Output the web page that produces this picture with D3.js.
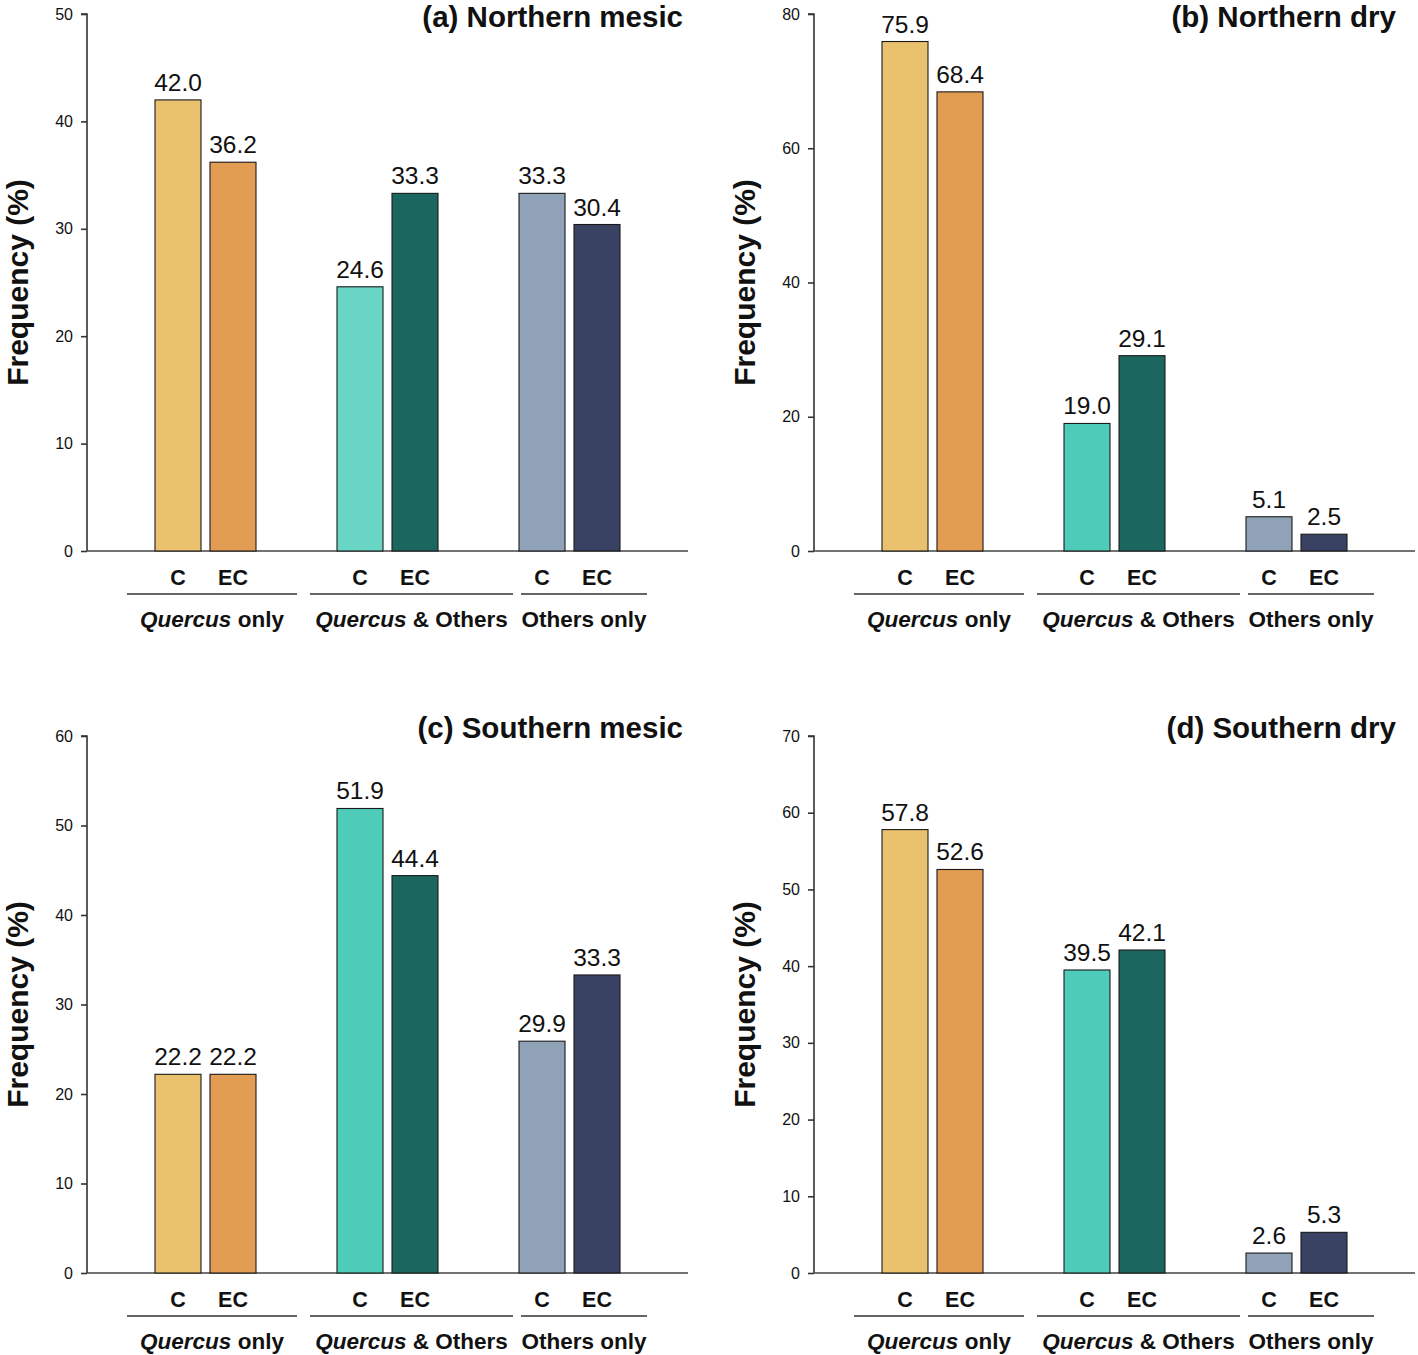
<!DOCTYPE html>
<html>
<head>
<meta charset="utf-8">
<script src="https://cdn.jsdelivr.net/npm/d3@7"></script>
<style>
  body { margin: 0; background: #fff; }
  svg { display: block; font-family: "Liberation Sans", Arial, Helvetica, sans-serif; }
</style>
</head>
<body>
<svg id="chart" width="1418" height="1355"></svg>
<script>
// ---- data ----
const categories = ["C", "EC"];
const groups = ["Quercus only", "Quercus & Others", "Others only"];
const panelTitles = ["(a) Northern mesic", "(b) Northern dry", "(c) Southern mesic", "(d) Southern dry"];
const yMaxes = [50, 80, 60, 70];
const yTickStep = [10, 20, 10, 10];
const valuesA = [42.0, 36.2, 24.6, 33.3, 33.3, 30.4];
const valuesB = [75.9, 68.4, 19.0, 29.1, 5.1, 2.5];
const valuesC = [22.2, 22.2, 51.9, 44.4, 25.9, 33.3];
const valuesD = [57.8, 52.6, 39.5, 42.1, 2.6, 5.3];
const labelsA = ["42.0", "36.2", "24.6", "33.3", "33.3", "30.4"];
const labelsB = ["75.9", "68.4", "19.0", "29.1", "5.1", "2.5"];
const labelsC = ["22.2", "22.2", "51.9", "44.4", "29.9", "33.3"];
const labelsD = ["57.8", "52.6", "39.5", "42.1", "2.6", "5.3"];
const colorsA = ["#EAC26E", "#E39D52", "#69D5C5", "#1B6760", "#8FA2B7", "#394262"];
const colorsOther = ["#EAC26E", "#E39D52", "#4FCBB9", "#1B6760", "#8FA2B7", "#394262"];

const panels = [
  { title: panelTitles[0], yMax: yMaxes[0], step: yTickStep[0], values: valuesA, labels: labelsA, colors: colorsA, ox: 0, oy: 0, tx: 683, ty: 27 },
  { title: panelTitles[1], yMax: yMaxes[1], step: yTickStep[1], values: valuesB, labels: labelsB, colors: colorsOther, ox: 727, oy: 0, tx: 669, ty: 27 },
  { title: panelTitles[2], yMax: yMaxes[2], step: yTickStep[2], values: valuesC, labels: labelsC, colors: colorsOther, ox: 0, oy: 722, tx: 683, ty: 16 },
  { title: panelTitles[3], yMax: yMaxes[3], step: yTickStep[3], values: valuesD, labels: labelsD, colors: colorsOther, ox: 727, oy: 722, tx: 669, ty: 16 }
];

// ---- layout ----
const axisX = 87, yTop = 14, yBottom = 551, xEnd = 688;
const groupStart = 114.5, groupStep = 182;
const groupLabelDX = [125, 324.5, 497];    // text centers relative to axisX
const underlineHalf = [85, 101.5, 63];

const svg = d3.select("#chart");

panels.forEach(p => {
  const g = svg.append("g").attr("transform", `translate(${p.ox},${p.oy})`);

  const y = d3.scaleLinear().domain([0, p.yMax]).range([yBottom, yTop]);
  const xg = d3.scaleBand().domain(groups).range([groupStart, groupStart + groupStep * 3]).padding(0);
  const xi = d3.scaleBand().domain(categories).range([40.5, 141.5]).paddingInner(9 / 55).paddingOuter(0);

  // y axis
  const ticks = d3.range(0, p.yMax + 0.001, p.step);
  const yAxis = d3.axisLeft(y).tickValues(ticks).tickSize(6).tickPadding(8).tickFormat(d3.format("d"));
  const ag = g.append("g").attr("transform", `translate(${axisX},0)`).call(yAxis);
  ag.select(".domain").attr("stroke", "#333").attr("stroke-width", 1.6).attr("d", `M-6,${yTop}H0V${yBottom}`);
  ag.selectAll(".tick line").attr("stroke", "#333").attr("stroke-width", 1.6);
  ag.selectAll(".tick text").attr("font-size", 16).attr("fill", "#111").attr("font-family", "Liberation Sans, Arial, sans-serif");

  // baseline
  g.append("line").attr("x1", axisX).attr("x2", xEnd).attr("y1", yBottom).attr("y2", yBottom)
    .attr("stroke", "#444").attr("stroke-width", 1.6);

  // bars
  const data = [];
  groups.forEach((gr, gi) => categories.forEach((c, ci) => {
    const k = gi * 2 + ci;
    data.push({ group: gr, cat: c, value: p.values[k], label: p.labels[k], color: p.colors[k] });
  }));

  g.selectAll("rect.bar").data(data).enter().append("rect")
    .attr("class", "bar")
    .attr("x", d => xg(d.group) + xi(d.cat))
    .attr("width", xi.bandwidth())
    .attr("y", d => y(d.value))
    .attr("height", d => y(0) - y(d.value))
    .attr("fill", d => d.color)
    .attr("stroke", "#1a1a1a").attr("stroke-width", 1.1);

  g.selectAll("text.val").data(data).enter().append("text")
    .attr("class", "val")
    .attr("x", d => xg(d.group) + xi(d.cat) + xi.bandwidth() / 2)
    .attr("y", d => y(d.value) - 9)
    .attr("text-anchor", "middle")
    .attr("font-size", 24.5).attr("fill", "#111")
    .text(d => d.label);

  // category labels
  g.selectAll("text.cat").data(data).enter().append("text")
    .attr("class", "cat")
    .attr("x", d => xg(d.group) + xi(d.cat) + xi.bandwidth() / 2)
    .attr("y", 585)
    .attr("text-anchor", "middle")
    .attr("font-size", 21.5).attr("font-weight", "bold").attr("fill", "#111")
    .text(d => d.cat);

  // group underline + labels
  groups.forEach((gr, gi) => {
    const cx = axisX + groupLabelDX[gi];
    g.append("line").attr("x1", cx - underlineHalf[gi]).attr("x2", cx + underlineHalf[gi])
      .attr("y1", 594).attr("y2", 594).attr("stroke", "#333").attr("stroke-width", 1.6);
    const t = g.append("text").attr("x", cx).attr("y", 627).attr("text-anchor", "middle")
      .attr("font-size", 22.5).attr("font-weight", "bold").attr("fill", "#111");
    if (gr.startsWith("Quercus")) {
      t.append("tspan").attr("font-style", "italic").text("Quercus");
      t.append("tspan").text(gr.slice(7));
    } else {
      t.text(gr);
    }
  });

  // title
  g.append("text").attr("x", p.tx).attr("y", p.ty).attr("text-anchor", "end")
    .attr("font-size", 29.5).attr("font-weight", "bold").attr("fill", "#111")
    .text(p.title);

  // y label
  g.append("text")
    .attr("transform", `translate(28,${(yTop + yBottom) / 2}) rotate(-90)`)
    .attr("text-anchor", "middle")
    .attr("font-size", 30).attr("font-weight", "bold").attr("fill", "#111")
    .text("Frequency (%)");
});
</script>
</body>
</html>
